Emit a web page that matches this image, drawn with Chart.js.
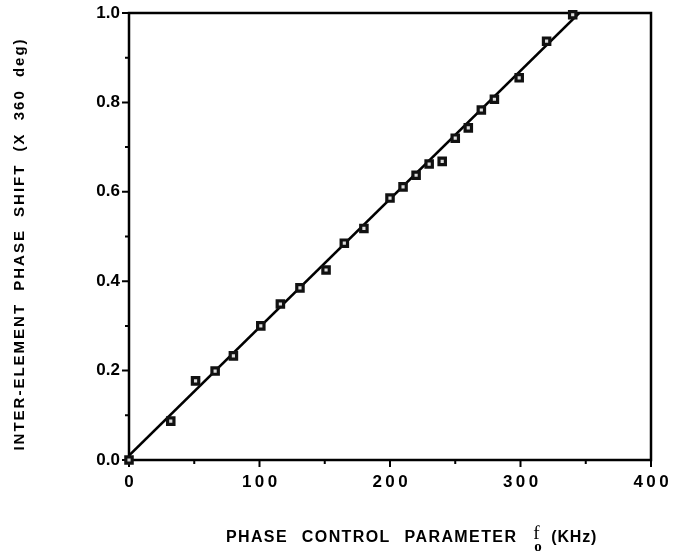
<!DOCTYPE html>
<html>
<head>
<meta charset="utf-8">
<script src="https://cdn.jsdelivr.net/npm/chart.js@4.4.1/dist/chart.umd.min.js"></script>
<style>
  html, body { margin: 0; padding: 0; background: #fff; }
  canvas { display: block; }
</style>
</head>
<body>
<canvas id="phaseChart" width="674" height="554"></canvas>
<script>
// measured points: phase control parameter f_o (kHz) vs inter-element phase shift (x 360 deg)
var fo    = [0, 32, 51, 66, 80, 101, 116, 131, 151, 165, 180, 200, 210, 220, 230, 240, 250, 260, 270, 280, 299, 320, 340];
var shift = [0.0, 0.087, 0.177, 0.199, 0.233, 0.300, 0.349, 0.385, 0.425, 0.485, 0.518, 0.586, 0.611, 0.637, 0.662, 0.668, 0.720, 0.743, 0.783, 0.807, 0.855, 0.937, 0.996];

// straight fit line drawn through the points
var fitFo    = [0, 345];
var fitShift = [0.01, 1.0];

var xMin = 0, xMax = 400, xStep = 50;
var yMin = 0, yMax = 1.0, yStep = 0.1;

var FONT = '"Liberation Sans", Arial, sans-serif';

function toPoints(xs, ys) {
  var out = [];
  for (var i = 0; i < xs.length; i++) out.push({ x: xs[i], y: ys[i] });
  return out;
}

// frame, tick marks and axis titles
var frameAndTitles = {
  id: 'frameAndTitles',
  beforeDatasetsDraw: function(chart) {
    var ctx = chart.ctx, a = chart.chartArea;
    var xs = chart.scales.x, ys = chart.scales.y;
    ctx.save();
    ctx.strokeStyle = '#000';
    ctx.lineWidth = 2.5;
    ctx.strokeRect(a.left, a.top, a.right - a.left, a.bottom - a.top);
    ctx.lineWidth = 2;
    ctx.beginPath();
    xs.ticks.forEach(function(t) {
      var px = xs.getPixelForValue(t.value);
      var len = (Math.round(t.value) % 100 === 0) ? 7 : 4;
      ctx.moveTo(px, a.bottom);
      ctx.lineTo(px, a.bottom + len);
    });
    ys.ticks.forEach(function(t) {
      var py = ys.getPixelForValue(t.value);
      var len = (Math.round(t.value * 10) % 2 === 0) ? 7 : 4;
      ctx.moveTo(a.left, py);
      ctx.lineTo(a.left - len, py);
    });
    ctx.stroke();
    ctx.restore();
  },
  afterDraw: function(chart) {
    var ctx = chart.ctx;
    ctx.save();
    ctx.fillStyle = '#000';
    ctx.textBaseline = 'middle';

    // y title, rotated
    ctx.save();
    ctx.translate(20, 244);
    ctx.rotate(-Math.PI / 2);
    ctx.font = 'bold 15px ' + FONT;
    ctx.letterSpacing = '2px';
    ctx.wordSpacing = '6px';
    ctx.textAlign = 'center';
    ctx.fillText('INTER-ELEMENT PHASE SHIFT (X 360 deg)', 0, 0);
    ctx.restore();

    // x title with subscript
    var y = 538;
    var part1 = 'PHASE CONTROL PARAMETER';
    var part2 = '(KHz)';
    ctx.font = 'bold 16px ' + FONT;
    ctx.letterSpacing = '1.4px';
    ctx.wordSpacing = '8px';
    var w1 = ctx.measureText(part1).width;
    var w2 = ctx.measureText(part2).width;
    var gapF = 16, wF = 12, gap2 = 6;
    var total = w1 + gapF + wF + gap2 + w2;
    var x0 = 413 - total / 2;
    ctx.textAlign = 'left';
    ctx.fillText(part1, x0, y);
    ctx.letterSpacing = '0px';
    ctx.font = '19px "Liberation Serif", serif';
    var xf = x0 + w1 + gapF;
    ctx.fillText('f', xf, y - 4);
    ctx.font = 'bold 15px "Liberation Serif", serif';
    ctx.fillText('o', xf + 1, y + 9);
    ctx.font = 'bold 16px ' + FONT;
    ctx.letterSpacing = '0.8px';
    ctx.fillText(part2, xf + wF + gap2, y);
    ctx.restore();
  }
};

Chart.defaults.font.family = FONT;
Chart.defaults.color = '#000';

var phaseChart = new Chart(document.getElementById('phaseChart'), {
  type: 'scatter',
  data: {
    datasets: [
      {
        type: 'line',
        label: 'fit',
        data: toPoints(fitFo, fitShift),
        borderColor: '#000',
        borderWidth: 2.5,
        pointRadius: 0,
        fill: false,
        order: 2
      },
      {
        label: 'measured',
        data: toPoints(fo, shift),
        pointStyle: 'rect',
        pointRadius: 4.5,
        pointBorderWidth: 3.2,
        pointBorderColor: '#111',
        pointBackgroundColor: '#ddd',
        clip: false,
        order: 1
      }
    ]
  },
  options: {
    responsive: false,
    animation: false,
    layout: { padding: { top: 13, right: 23, left: 0, bottom: 0 } },
    plugins: {
      legend: { display: false },
      tooltip: { enabled: false }
    },
    scales: {
      x: {
        type: 'linear',
        min: xMin,
        max: xMax,
        grid: { display: true, drawOnChartArea: false, drawTicks: false, color: 'rgba(0,0,0,0)' },
        border: { display: false },
        ticks: {
          stepSize: xStep,
          autoSkip: false,
          maxRotation: 0,
          padding: 12,
          font: { size: 17, weight: 'bold' },
          callback: function(v) {
            if (Math.round(v) % 100 !== 0) return '';
            return String(Math.round(v)).split('').join('\u2009');
          }
        },
        afterFit: function(scale) {
          scale.height = 94;
          scale.paddingLeft = 0;
          scale.paddingRight = 0;
        }
      },
      y: {
        type: 'linear',
        min: yMin,
        max: yMax,
        grid: { display: true, drawOnChartArea: false, drawTicks: false, color: 'rgba(0,0,0,0)' },
        border: { display: false },
        ticks: {
          stepSize: yStep,
          autoSkip: false,
          padding: 9,
          font: { size: 17, weight: 'bold' },
          callback: function(v) {
            var n = Math.round(v * 10);
            return n % 2 === 0 ? (n / 10).toFixed(1) : '';
          }
        },
        afterFit: function(scale) {
          scale.width = 129;
          scale.paddingTop = 0;
          scale.paddingBottom = 0;
        }
      }
    }
  },
  plugins: [frameAndTitles]
});
</script>
</body>
</html>
